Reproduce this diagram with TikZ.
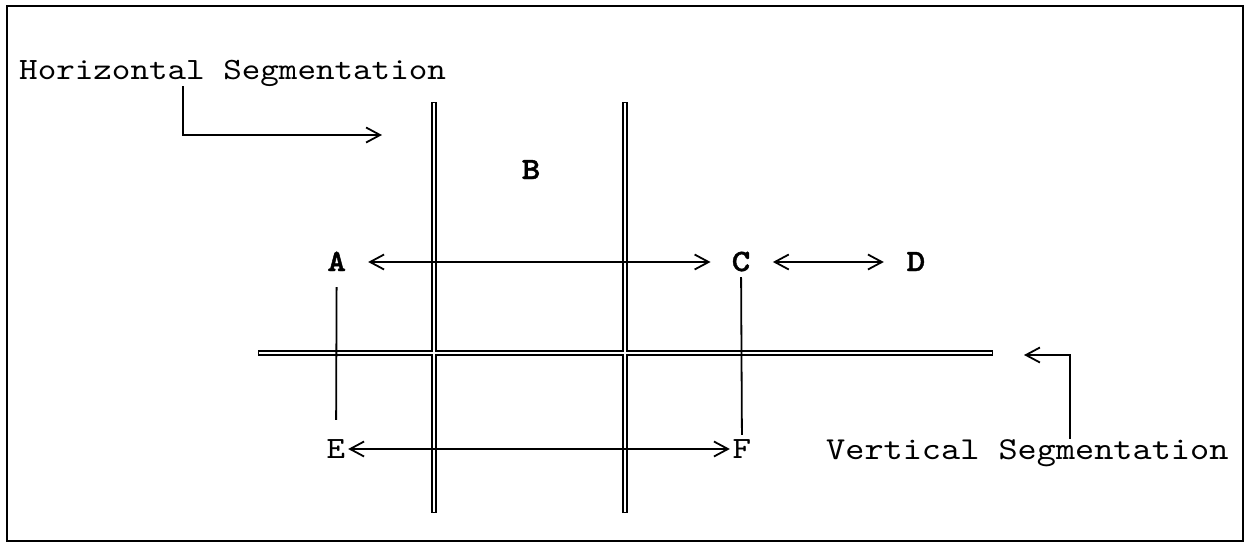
\documentclass[tikz,border=0pt]{standalone}
\usepackage{fontspec}
\setmonofont{lmmono10-regular.otf}[FakeStretch=1.14, BoldFont=lmmonolt10-bold.otf, BoldFeatures={FakeStretch=1.14, FakeBold=1.5}]
\usetikzlibrary{arrows.meta}
\tikzset{
  chev/.tip={Straight Barb[length=14pt,width=15pt]},
}
\begin{document}
\begin{tikzpicture}[x=1pt,y=-1pt,
  ln/.style={line width=1.8pt},
  dlout/.style={line width=5.6pt,black},
  dlin/.style={line width=2.4pt,white},
  lbl/.style={font=\fontsize{31}{31}\selectfont\ttfamily\bfseries, inner sep=0pt, text height=18pt, text depth=0pt},
  lblr/.style={font=\fontsize{31}{31}\selectfont\ttfamily, inner sep=0pt, text height=18pt, text depth=0pt},
  caption/.style={inner sep=0pt, anchor=base west}]
\useasboundingbox (0,0) rectangle (1246,544);
\draw[line width=2pt] (7,6) rectangle (1243,541);

% double segmentation lines (outlines first, then interiors)
\draw[dlout] (434,102) -- (434,513);
\draw[dlout] (625,102) -- (625,513);
\draw[dlout] (258,353.2) -- (993,353.2);
\draw[dlin] (434,102.6) -- (434,512.4);
\draw[dlin] (625,102.6) -- (625,512.4);
\draw[dlin] (258.6,353.2) -- (992.4,353.2);

% labels
\node[lbl] (A) at (336.7,262) {A};
\node[lbl] (B) at (531,170) {B};
\node[lbl] (C) at (741,262) {C};
\node[lbl] (D) at (916,262) {D};
\node[lblr] (E) at (336,449) {E};
\node[lblr] (F) at (742,449) {F};

\node[caption, font=\fontsize{31}{31}\selectfont\ttfamily] (hs) at (19,79) {Horizontal Segmentation};
\node[caption, font=\fontsize{32}{32}\selectfont\ttfamily] (vs) at (826,459) {Vertical Segmentation};

\coordinate (hsv) at (183,0);
\coordinate (hsend) at (382,135);
\coordinate (vsv) at (1070,0);
\coordinate (vsend) at (1024,355);

% connectors
\draw[ln,chev-chev,shorten <=22pt,shorten >=21pt] (A) -- (C);
\draw[ln,chev-chev,shorten <=22.4pt,shorten >=22.7pt] (C) -- (D);
\draw[ln,chev-chev,shorten <=2.7pt,shorten >=2.7pt] (E) -- (F);
\draw[ln,shorten <=16pt,shorten >=20pt] (A) -- (E);
\draw[ln,shorten <=6pt,shorten >=5pt] (C) -- (F);
\draw[ln,-chev] (hs.south -| hsv) |- (hsend);
\draw[ln,-chev] (vs.north -| vsv) |- (vsend);
\end{tikzpicture}
\end{document}
